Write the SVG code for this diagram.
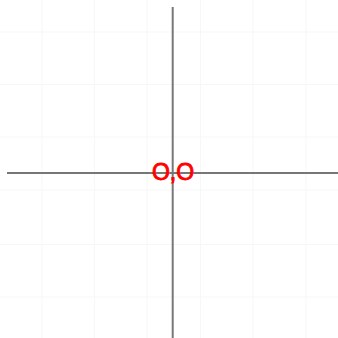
<svg xmlns="http://www.w3.org/2000/svg" width="338" height="338" viewBox="0 0 338 338">
<style>
.grid{stroke:#f7f7f7;stroke-width:1;fill:none}
.axis{stroke:#777777;stroke-width:2;fill:none}
.lbl{font-family:"Liberation Sans",Arial,sans-serif;font-size:23px;fill:#ff0000;stroke:#ff0000;stroke-width:0.9}
</style>
<rect width="338" height="338" fill="#ffffff"/>
<g id="grid">
<path class="grid" d="M42 0V338M94.5 0V338M147 0V338M200.5 0V338M253 0V338M306 0V338"/>
<path class="grid" d="M0 32H338M0 84.5H338M0 137H338M0 190H338M0 244.5H338M0 297H338"/>
</g>
<g id="axes">
<line class="axis" x1="172.7" y1="7" x2="172.7" y2="338"/>
<line class="axis" x1="7" y1="173" x2="338" y2="173"/>
</g>
<g id="origin">
<text class="lbl" x="173" y="179.5" text-anchor="middle">O,O</text>
</g>
</svg>
